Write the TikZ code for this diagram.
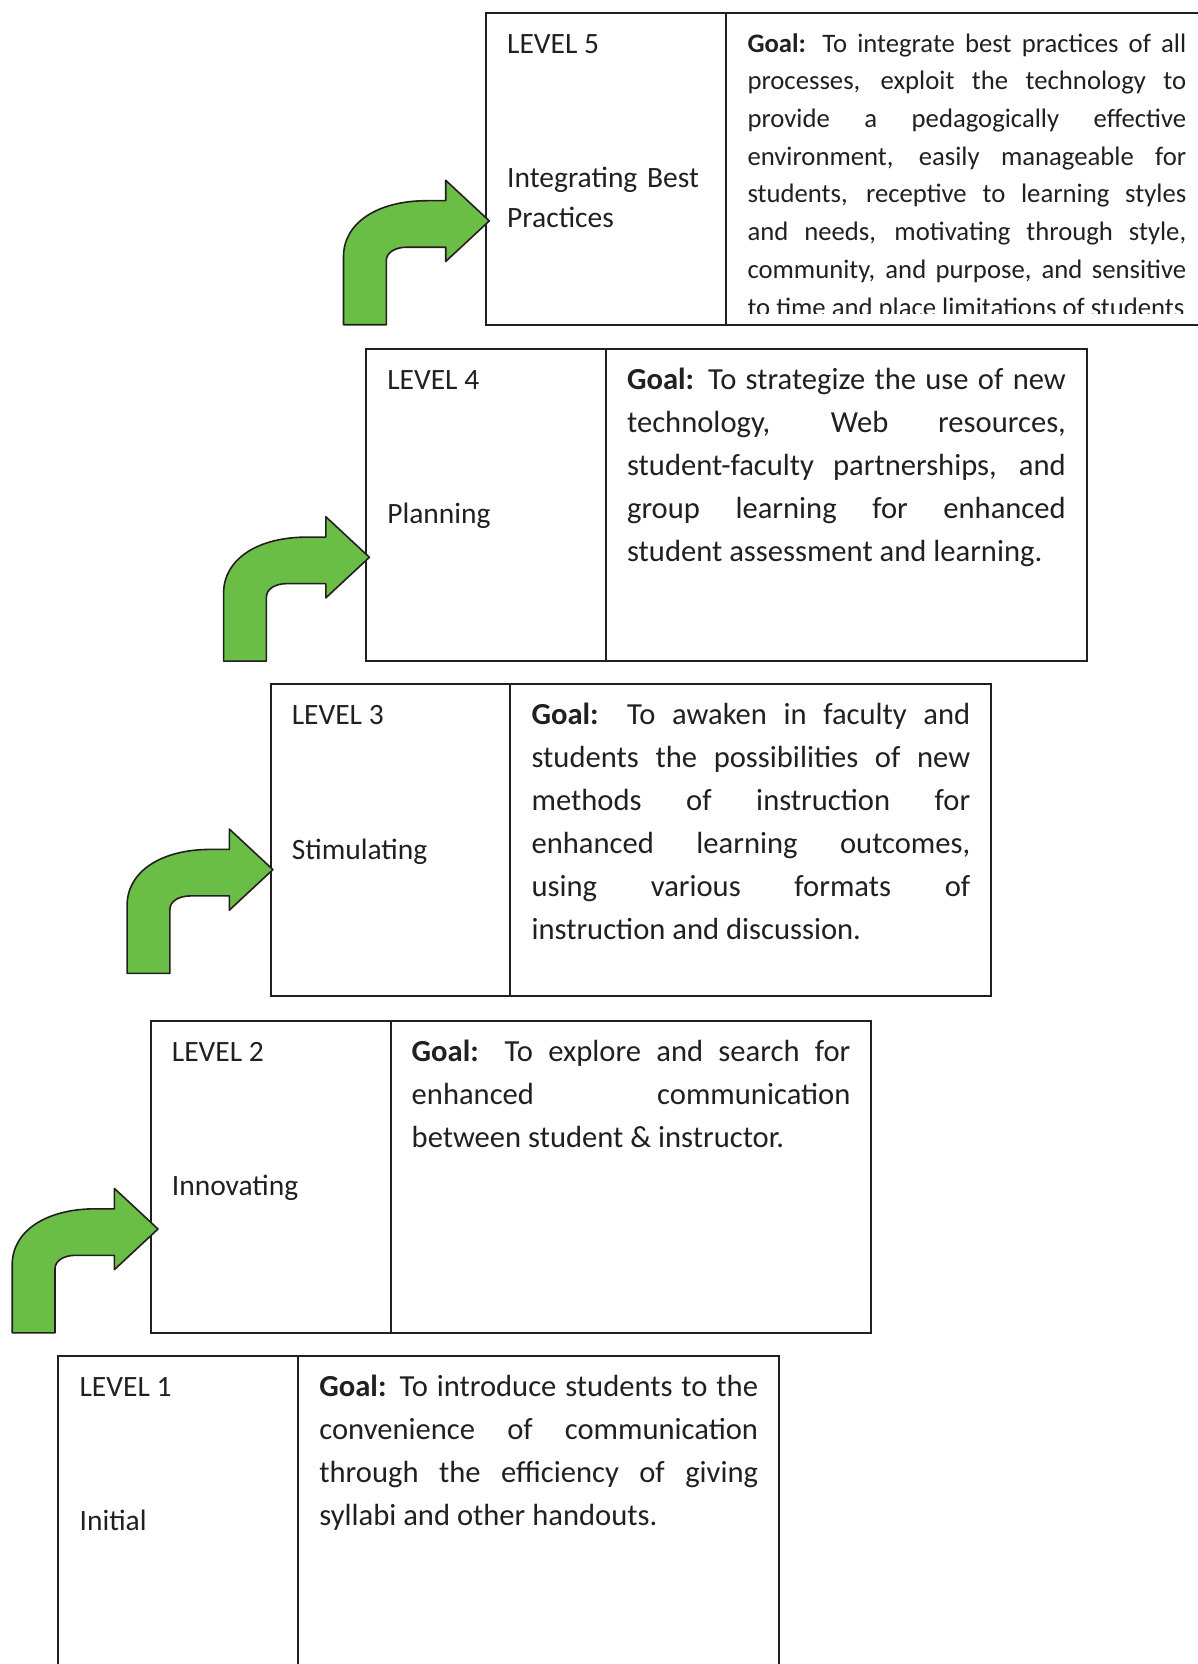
\documentclass[tikz,border=0pt]{standalone}
\usepackage{fontspec}
\setmainfont{Carlito}
\usetikzlibrary{positioning}
\definecolor{arrowgreen}{RGB}{106,189,69}
\definecolor{ink}{RGB}{35,31,32}
\newcommand{\goalbox}[1]{\parbox[t]{438.7pt}{\hyphenpenalty=10000\tolerance=10000\strut #1}}

\begin{document}
\begin{tikzpicture}[x=1pt, y=-1pt,
    cell/.style={draw=ink, line width=2pt, anchor=north west, inner sep=0pt, outer sep=0pt, minimum height=312pt},
    namecell/.style={cell, minimum width=239.8pt},
    goalcell/.style={cell, minimum width=480.7pt},
    title/.style={anchor=north west, inner sep=0pt, text=ink, font=\fontsize{29.5}{40.5}\selectfont},
    stage/.style={title, text width=210pt, align=left},
    goal/.style={anchor=north west, inner sep=0pt, text=ink, font=\fontsize{30.6}{43}\selectfont},
    longgoal/.style={goal, font=\fontsize{26.7}{37.7}\selectfont},
    arrowshape/.style={fill=arrowgreen, draw=ink, line width=1.6pt, line join=round},
    bent/.pic={
      \filldraw[arrowshape] (-142.5,0) -- (-142.5,-68)
        .. controls (-142.5,-101.6) and (-109,-124) .. (-59,-124)
        -- (-40.3,-124) -- (-40.3,-144.4) -- (3.3,-103.8) -- (-40.3,-63.2) -- (-40.3,-77.5)
        -- (-79,-77.5) .. controls (-91,-77.5) and (-99.7,-72) .. (-99.7,-64) -- (-99.7,0) -- cycle;
    }
  ]
  \useasboundingbox (0,0) rectangle (1198,1664);
  \clip (0,0) rectangle (1198,1664);

  % level 5
  \node[namecell] (lvl5) at (486.0,12.7) {};
  \node[goalcell] (goal5) at (lvl5.north east) {};
  \node[title] (lvl5title) at ([shift={(21,11.95)}]lvl5.north west) {\strut LEVEL 5};
  \node[stage] (lvl5stage) at ([shift={(21,146.15)}]lvl5.north west) {\strut Integrating Best\\Practices};
  \begin{scope}
    \clip (goal5.north west) rectangle ([shift={(0,-11.2)}]goal5.south east);
    \node[longgoal] (goal5text) at ([shift={(21.5,12.9)}]goal5.north west) {\goalbox{\textbf{Goal:} To integrate best practices of all\linebreak
      processes, exploit the technology to\linebreak
      provide a pedagogically effective\linebreak
      environment, easily manageable for\linebreak
      students, receptive to learning styles\linebreak
      and needs, motivating through style,\linebreak
      community, and purpose, and sensitive\linebreak
      to time and place limitations of students}};
  \end{scope}
  \pic at (lvl5.south west) {bent};

  % level 4
  \node[namecell] (lvl4) at (366.1,349.1) {};
  \node[goalcell] (goal4) at (lvl4.north east) {};
  \node[title] (lvl4title) at ([shift={(21,11.95)}]lvl4.north west) {\strut LEVEL 4};
  \node[stage] (lvl4stage) at ([shift={(21,146.15)}]lvl4.north west) {\strut Planning};
  \node[goal] (goal4text) at ([shift={(21,10.2)}]goal4.north west) {\goalbox{\textbf{Goal:} To strategize the use of new\linebreak
    technology, Web resources,\linebreak
    student-faculty partnerships, and\linebreak
    group learning for enhanced\linebreak
    student assessment and learning.}};
  \pic at (lvl4.south west) {bent};

  % level 3
  \node[namecell] (lvl3) at (270.6,684.4) {};
  \node[goalcell] (goal3) at (lvl3.north east) {};
  \node[title] (lvl3title) at ([shift={(21,11.95)}]lvl3.north west) {\strut LEVEL 3};
  \node[stage] (lvl3stage) at ([shift={(21,146.15)}]lvl3.north west) {\strut Stimulating};
  \node[goal] (goal3text) at ([shift={(21,10.2)}]goal3.north west) {\goalbox{\textbf{Goal:} To awaken in faculty and\linebreak
    students the possibilities of new\linebreak
    methods of instruction for\linebreak
    enhanced learning outcomes,\linebreak
    using various formats of\linebreak
    instruction and discussion.}};
  \pic at ([shift={(-1,-23)}]lvl3.south west) {bent};

  % level 2
  \node[namecell] (lvl2) at (150.7,1020.8) {};
  \node[goalcell] (goal2) at (lvl2.north east) {};
  \node[title] (lvl2title) at ([shift={(21,11.95)}]lvl2.north west) {\strut LEVEL 2};
  \node[stage] (lvl2stage) at ([shift={(21,146.15)}]lvl2.north west) {\strut Innovating};
  \node[goal] (goal2text) at ([shift={(21,10.2)}]goal2.north west) {\goalbox{\textbf{Goal:} To explore and search for\linebreak
    enhanced communication\linebreak
    between student \& instructor.}};
  \pic at ([shift={(4,0)}]lvl2.south west) {bent};

  % level 1
  \node[namecell] (lvl1) at (58.4,1356.1) {};
  \node[goalcell] (goal1) at (lvl1.north east) {};
  \node[title] (lvl1title) at ([shift={(21,11.95)}]lvl1.north west) {\strut LEVEL 1};
  \node[stage] (lvl1stage) at ([shift={(21,146.15)}]lvl1.north west) {\strut Initial};
  \node[goal] (goal1text) at ([shift={(21,10.2)}]goal1.north west) {\goalbox{\textbf{Goal:} To introduce students to the\linebreak
    convenience of communication\linebreak
    through the efficiency of giving\linebreak
    syllabi and other handouts.}};
\end{tikzpicture}
\end{document}
